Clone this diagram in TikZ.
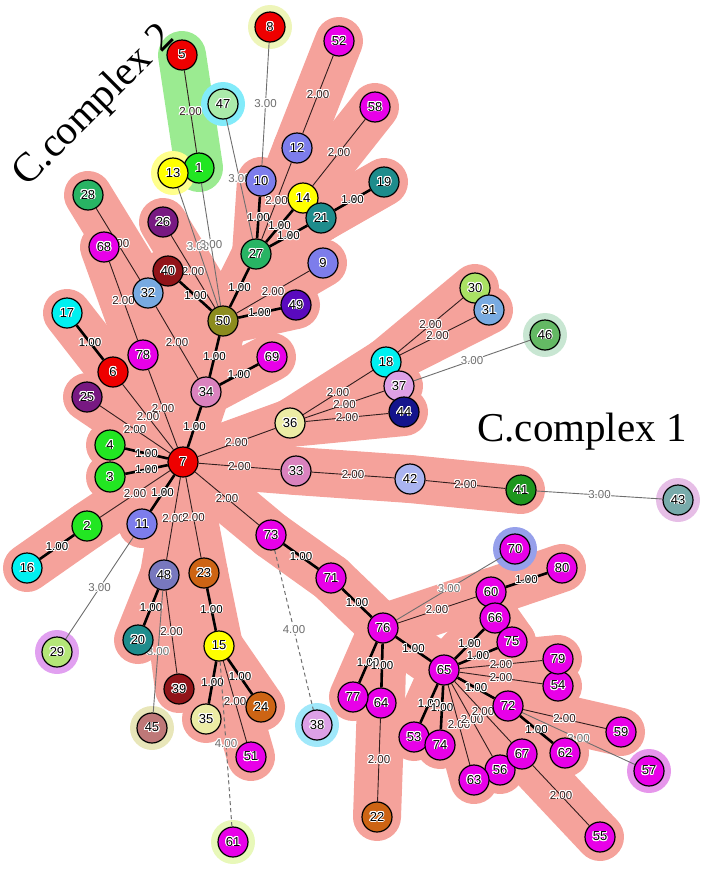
\documentclass[tikz,border=0pt]{standalone}
\usepackage{fontspec}
\usepackage{contour}
\newfontfamily\lsans{Liberation Sans}
\newfontfamily\lserif{Liberation Serif}
\contourlength{0.9pt}
\pgfdeclarelayer{bands}
\pgfdeclarelayer{edges}
\pgfsetlayers{bands,edges,main}
\definecolor{cred}{RGB}{238,0,0}
\definecolor{cgreen}{RGB}{34,230,34}
\definecolor{cyel}{RGB}{255,255,0}
\definecolor{cmag}{RGB}{232,0,232}
\definecolor{cperi}{RGB}{125,125,235}
\definecolor{cteal}{RGB}{30,140,140}
\definecolor{csea}{RGB}{40,180,100}
\definecolor{cpurp}{RGB}{120,25,130}
\definecolor{cdred}{RGB}{145,20,25}
\definecolor{clblue}{RGB}{120,170,225}
\definecolor{ccyan}{RGB}{0,240,240}
\definecolor{corchid}{RGB}{218,130,190}
\definecolor{cindigo}{RGB}{90,10,190}
\definecolor{colive}{RGB}{140,140,30}
\definecolor{cbrown}{RGB}{205,100,20}
\definecolor{cslate}{RGB}{120,120,190}
\definecolor{crosy}{RGB}{190,120,120}
\definecolor{cpaley}{RGB}{236,236,165}
\definecolor{clgreen}{RGB}{180,230,120}
\definecolor{cygreen}{RGB}{170,225,100}
\definecolor{clilac}{RGB}{220,160,230}
\definecolor{cnavy}{RGB}{20,20,140}
\definecolor{clav}{RGB}{170,180,240}
\definecolor{cdgreen}{RGB}{30,150,30}
\definecolor{cgteal}{RGB}{120,170,170}
\definecolor{cmgreen}{RGB}{100,185,100}
\definecolor{cpgreen}{RGB}{170,235,170}
\definecolor{salmon}{RGB}{245,162,155}
\definecolor{cxtwo}{RGB}{155,235,145}
\definecolor{hyel}{RGB}{255,255,140}
\definecolor{hcyan}{RGB}{130,235,250}
\definecolor{hpy}{RGB}{238,245,185}
\definecolor{hvio}{RGB}{225,160,240}
\definecolor{hbeige}{RGB}{232,230,185}
\definecolor{hyg}{RGB}{232,248,185}
\definecolor{hcyantwo}{RGB}{160,232,250}
\definecolor{hgg}{RGB}{200,230,210}
\definecolor{hpink}{RGB}{230,190,230}
\definecolor{hblue}{RGB}{150,160,235}
\definecolor{hviotwo}{RGB}{230,150,235}
\definecolor{etwo}{RGB}{50,30,30}
\definecolor{ethree}{RGB}{110,110,110}
\newcommand\ew[1]{\contour{white}{#1}}
\begin{document}
\begin{tikzpicture}[x=1pt,y=-1pt,
  nd/.style={circle,draw=black,line width=1.2pt,minimum size=30pt,inner sep=0pt,
    font=\lsans\fontsize{13}{13}\selectfont},
  el/.style={inner sep=0pt,font=\lsans\fontsize{11.5}{12}\selectfont},
  e1/.style={line width=2.6pt,black},
  e2/.style={line width=0.9pt,etwo},
  e3/.style={line width=0.9pt,ethree},
  e4/.style={line width=1pt,ethree,dash pattern=on 4pt off 3pt},
  band/.style={line width=48pt,salmon,line cap=round,line join=round},
  cxtext/.style={font=\lserif\fontsize{41}{41}\selectfont,inner sep=0pt}]
\useasboundingbox (0,0) rectangle (703,873);
\foreach \i/\x/\y/\c in {
1/199/168/cgreen,2/87/526/cgreen,3/110/477/cgreen,4/110/445/cgreen,
5/182/55/cred,6/113/372/cred,7/183/462/cred,8/270/27/cred,
9/323/263/cperi,10/261/181/cperi,11/142/524/cperi,12/297/148/cperi,
13/173/173/cyel,14/303/198/cyel,15/219/646/cyel,
16/27/568/ccyan,17/67/313/ccyan,18/386/362/ccyan,
19/384/182/cteal,20/138/640/cteal,21/321/218/cteal,
22/377/817/cbrown,23/204/573/cbrown,24/261/707/cbrown,
25/87/397/cpurp,26/163/222/cpurp,27/256/254/csea,28/88/195/csea,
29/57/652/clgreen,30/475/288/cygreen,31/489/310/clblue,32/148/293/clblue,
33/296/471/corchid,34/206/392/corchid,35/206/719/cpaley,36/290/423/cpaley,
37/399/386/clilac,38/317/725/clilac,39/179/689/cdred,40/168/271/cdred,
41/521/490/cdgreen,42/410/479/clav,43/678/500/cgteal,44/404/412/cnavy,
45/152/728/crosy,46/545/335/cmgreen,47/223/104/cpgreen,48/164/575/cslate,
49/296/305/cindigo,50/223/321/colive,
51/251/757/cmag,52/339/41/cmag,53/414/737/cmag,54/558/686/cmag,55/600/837/cmag,
56/500/770/cmag,57/649/771/cmag,58/375/107/cmag,59/621/732/cmag,60/491/592/cmag,
61/233/842/cmag,62/565/753/cmag,63/474/780/cmag,64/381/703/cmag,65/444/670/cmag,
66/495/618/cmag,67/522/754/cmag,68/104/247/cmag,69/272/357/cmag,70/515/549/cmag,
71/331/578/cmag,72/508/706/cmag,73/271/535/cmag,74/440/745/cmag,75/512/642/cmag,
76/383/628/cmag,77/353/697/cmag,78/143/355/cmag,79/558/659/cmag,80/562/568/cmag}
  \node[nd,fill=\c] (n\i) at (\x,\y) {\contour{white}{\i}};
\begin{pgfonlayer}{bands}
\foreach \a/\b in {28/32,68/78,32/34,50/34,50/27,50/9,50/49,26/50,40/50,27/10,27/12,
  27/14,27/21,12/52,14/58,21/19,17/6,6/7,78/7,25/7,34/7,4/7,3/7,2/7,11/7,48/7,23/7,
  36/7,33/7,73/7,2/16,48/20,48/39,23/15,15/35,15/24,15/51,73/71,71/76,36/18,36/37,
  36/44,18/30,18/31,33/42,42/41,76/60,60/80,76/65,65/66,65/75,65/79,65/54,65/72,
  65/53,65/74,65/63,65/56,65/67,72/59,72/62,67/55,76/77,76/64,64/22,34/69,60/66,
  66/75,14/21,32/40}
  \draw[band] (n\a.center) -- (n\b.center);
\draw[band,cxtwo] (n5.center) -- (n1.center);
\foreach \i/\c in {13/hyel,47/hcyan,8/hpy,29/hvio,45/hbeige,61/hyg,38/hcyantwo,
  46/hgg,43/hpink,70/hblue,57/hviotwo}
  \fill[\c] (n\i.center) circle[radius=22pt];
\end{pgfonlayer}
\begin{pgfonlayer}{edges}
\foreach \a/\b/\w/\s in {5/1/2.00/2,13/50/3.00/3,1/50/3.00/3,47/27/3.00/3,8/10/3.00/3,
  26/50/2.00/2,40/50/1.00/1,28/32/2.00/2,68/78/2.00/2,32/34/2.00/2,50/34/1.00/1,
  50/27/1.00/1,50/9/2.00/2,50/49/1.00/1,27/10/1.00/1,27/12/2.00/2,27/14/1.00/1,
  27/21/1.00/1,12/52/2.00/2,14/58/2.00/2,21/19/1.00/1,17/6/1.00/1,6/7/2.00/2,
  78/7/2.00/2,25/7/2.00/2,34/7/1.00/1,4/7/1.00/1,3/7/1.00/1,2/7/2.00/2,11/7/1.00/1,
  48/7/2.00/2,23/7/2.00/2,36/7/2.00/2,33/7/2.00/2,73/7/2.00/2,2/16/1.00/1,
  11/29/3.00/3,48/20/1.00/1,48/39/2.00/2,48/45/3.00/3,23/15/1.00/1,15/35/1.00/1,
  15/24/1.00/1,15/51/2.00/2,15/61/4.00/4,73/38/4.00/4,73/71/1.00/1,71/76/1.00/1,
  36/18/2.00/2,36/37/2.00/2,36/44/2.00/2,18/30/2.00/2,18/31/2.00/2,37/46/3.00/3,
  33/42/2.00/2,42/41/2.00/2,41/43/3.00/3,76/70/3.00/3,76/60/2.00/2,60/80/1.00/1,
  76/65/1.00/1,65/66/1.00/1,65/75/1.00/1,65/79/2.00/2,65/54/2.00/2,65/72/1.00/1,
  65/53/1.00/1,65/74/1.00/1,65/63/2.00/2,65/56/2.00/2,65/67/2.00/2,72/59/2.00/2,
  72/62/1.00/1,72/57/3.00/3,67/55/2.00/2,76/77/1.00/1,76/64/1.00/1,64/22/2.00/2,
  34/69/1.00/1}
  \draw[e\s] (n\a) -- node[el]{\ew{\w}} (n\b);
\end{pgfonlayer}
\node[cxtext,rotate=45,anchor=base] (cx2) at (101.5,113.5) {C.complex 2};
\node[cxtext,anchor=base west] (cx1) at (477,441) {C.complex 1};
\end{tikzpicture}
\end{document}
